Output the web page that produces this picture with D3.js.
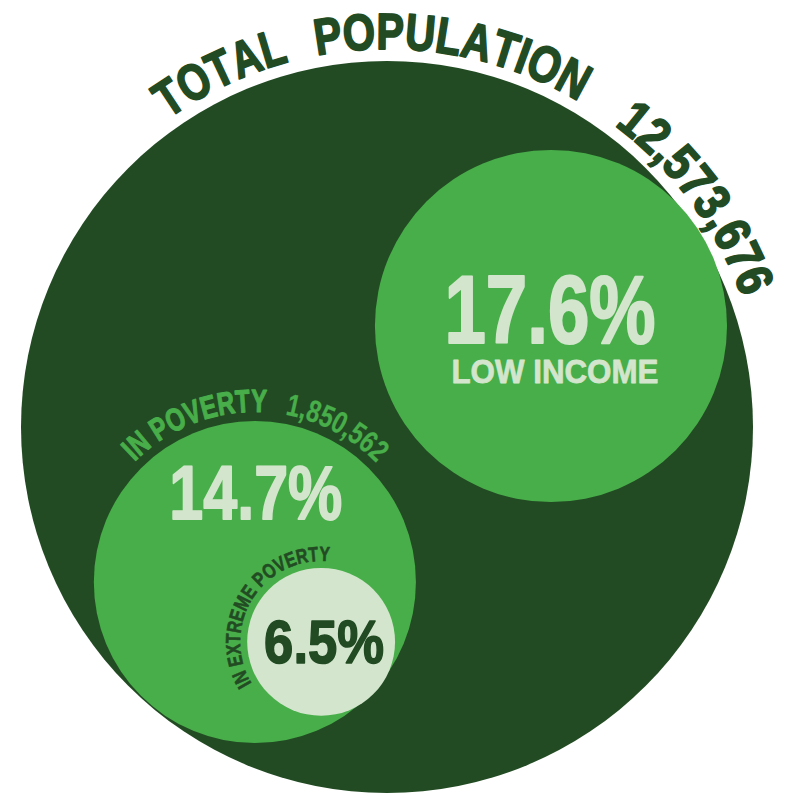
<!DOCTYPE html>
<html>
<head>
<meta charset="utf-8">
<script src="https://cdn.jsdelivr.net/npm/d3@7"></script>
<style>
  html, body { margin: 0; padding: 0; background: #ffffff; }
  svg { display: block; }
  text { font-family: "Liberation Sans", Arial, "DejaVu Sans Condensed", sans-serif; font-weight: bold; }
</style>
</head>
<body>
<svg id="chart" width="788" height="794"></svg>
<script>
// ---------- data ----------
const categories = ["TOTAL POPULATION", "LOW INCOME", "IN POVERTY", "IN EXTREME POVERTY"];
const shares = [100, 17.6, 14.7, 6.5];          // percent of total population
const counts = [12573676, null, 1850562, null];   // people

// ---------- layout (relative to the outer circle, in units of its radius) ----------
const outer = { cx: 387, cy: 427, r: 366 };
const rel = [
  { dx: 0,      dy: 0,      r: 1 },
  { dx: 0.448,  dy: -0.276, r: 0.481 },
  { dx: -0.361, dy: 0.4235, r: 0.44 },
  { dx: -0.180, dy: 0.587,  r: 0.202 }
];
const dark = "#224b23", mid = "#48ae4a", pale = "#d3e6cd";
const fills = [dark, mid, mid, pale];

const x = d3.scaleLinear().domain([-1, 1]).range([outer.cx - outer.r, outer.cx + outer.r]);
const y = d3.scaleLinear().domain([-1, 1]).range([outer.cy - outer.r, outer.cy + outer.r]);
const rs = d3.scaleLinear().domain([0, 1]).range([0, outer.r]);

const nodes = categories.map((c, i) => ({
  name: c, share: shares[i], count: counts[i],
  cx: x(rel[i].dx), cy: y(rel[i].dy), r: rs(rel[i].r), fill: fills[i]
}));

const svg = d3.select("#chart");

svg.selectAll("circle.c").data(nodes).join("circle")
  .attr("class", "c")
  .attr("cx", d => d.cx).attr("cy", d => d.cy).attr("r", d => d.r)
  .attr("fill", d => d.fill);

// ---------- text helpers ----------
const meas = svg.append("text").attr("x", -1000).attr("y", -1000);
function charW(ch, size) {
  meas.attr("font-size", size);
  meas.text("x" + ch + "x");
  const a = meas.node().getComputedTextLength();
  meas.text("xx");
  const b = meas.node().getComputedTextLength();
  return a - b;
}

// text set glyph by glyph along a circle, fitted between two angles (deg, clockwise from top)
function arcLabel(node, radius, a0, a1, str, size, color, sw) {
  const chars = str.split("");
  const ws = chars.map(c => charW(c, size));
  const natural = d3.sum(ws);
  const arcLen = (a1 - a0) * Math.PI / 180 * radius;
  const sx = arcLen / natural;
  let cum = 0;
  const g = svg.append("g");
  chars.forEach((c, i) => {
    const s = (cum + ws[i] / 2) * sx;
    cum += ws[i];
    if (c === " ") return;
    const th = a0 + s / radius * 180 / Math.PI;
    const t = th * Math.PI / 180;
    const px = node.cx + radius * Math.sin(t);
    const py = node.cy - radius * Math.cos(t);
    g.append("text")
      .attr("transform", `translate(${px},${py}) rotate(${th}) scale(${sx},1)`)
      .attr("text-anchor", "middle")
      .attr("font-size", size)
      .attr("fill", color)
      .attr("stroke", color)
      .attr("stroke-width", sw)
      .attr("stroke-linejoin", "round")
      .text(c);
  });
}

function centerText(xv, yv, str, size, color, len, sw) {
  svg.append("text")
    .attr("x", xv).attr("y", yv)
    .attr("text-anchor", "middle")
    .attr("font-size", size)
    .attr("fill", color)
    .attr("stroke", color)
    .attr("stroke-width", sw)
    .attr("stroke-linejoin", "round")
    .attr("textLength", len)
    .attr("lengthAdjust", "spacingAndGlyphs")
    .text(str);
}

const fmtN = d3.format(",");
const fmtP = d => d3.format(".1f")(d) + "%";

// total population label
const totalWords = categories[0].split(" ");
const r0 = nodes[0].r + 12;
arcLabel(nodes[0], r0, -35.4, -15, totalWords[0], 51, dark, 1.8);
arcLabel(nodes[0], r0, -10.7, 30.5, totalWords[1], 51, dark, 1.8);
arcLabel(nodes[0], r0, 37, 70, fmtN(counts[0]), 51, dark, 1.8);

// poverty label
const r2 = nodes[2].r + 9;
arcLabel(nodes[2], r2, -45, 4, categories[2], 32, mid, 1.1);
arcLabel(nodes[2], r2, 10.2, 45.7, fmtN(counts[2]), 31, mid, 0.3);

// extreme poverty label
const r3 = nodes[3].r + 7;
arcLabel(nodes[3], r3, -121, 6, categories[3], 20.5, dark, 0.6);

// big percentages
centerText(nodes[1].cx - 1, nodes[1].cy + 17, fmtP(shares[1]), 97, pale, 211, 2.2);
centerText(nodes[1].cx + 4, nodes[1].cy + 57, categories[1], 34, pale, 207, 0.8);
centerText(nodes[2].cx + 1, nodes[2].cy - 63, fmtP(shares[2]), 76, pale, 173, 1.8);
centerText(nodes[3].cx + 3, nodes[3].cy + 21, fmtP(shares[3]), 62, dark, 120, 1.6);

meas.remove();
</script>
</body>
</html>
